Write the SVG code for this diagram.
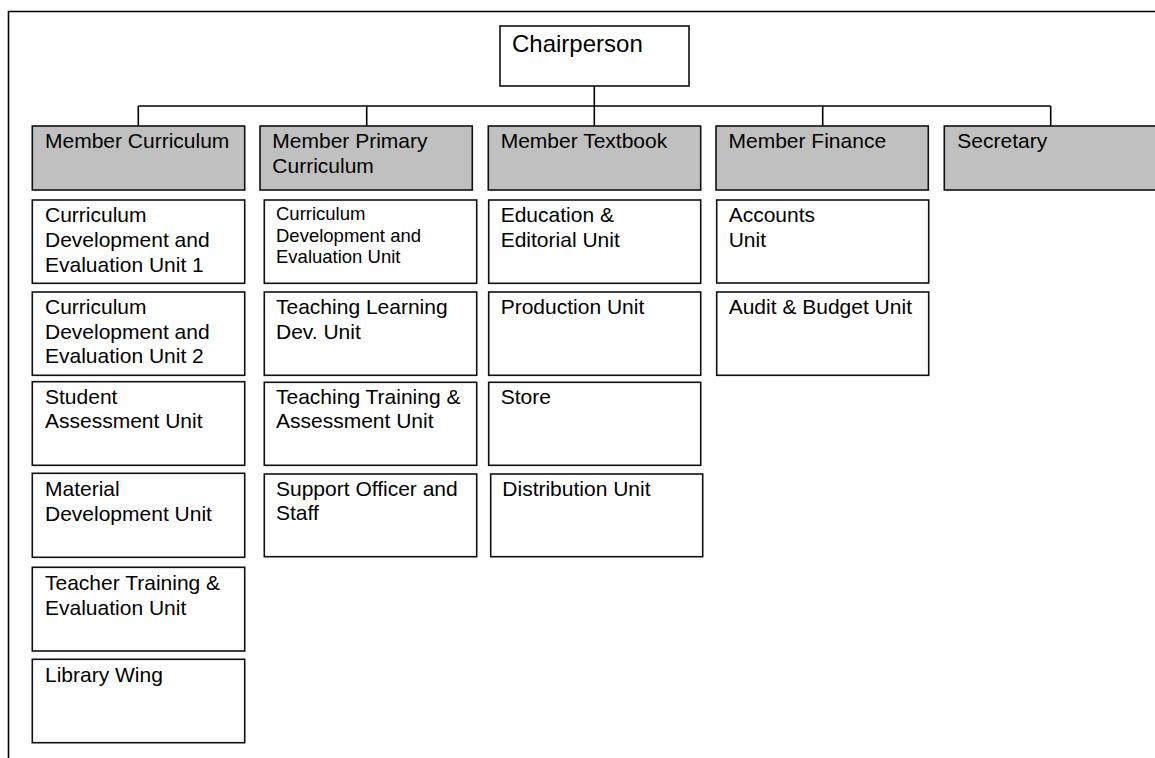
<svg xmlns="http://www.w3.org/2000/svg" width="1155" height="758" viewBox="0 0 1155 758">
<style>
  text { font-family: "Liberation Sans", Arial, sans-serif; font-size: 21px; fill: #000; }
  .small { font-size: 18.5px; }
  .big { font-size: 24px; }
  .hdr { fill: #c0c0c0; stroke: #111; stroke-width: 1.6; }
  .box { fill: #fff; stroke: #111; stroke-width: 1.6; }
  .conn { fill: none; stroke: #000; stroke-width: 1.6; }
</style>
<rect width="1155" height="758" fill="#fff"/>
<g id="frame">
  <path d="M8.5 760 V11.5 H1160" fill="none" stroke="#000" stroke-width="1.6"/>
</g>
<g id="connectors">
  <path class="conn" d="M594.3 86 V126"/>
  <path class="conn" d="M138.3 106 H1050.7" stroke-width="2"/>
  <path class="conn" d="M138.3 106 V126"/>
  <path class="conn" d="M366.7 106 V126"/>
  <path class="conn" d="M822.7 106 V126"/>
  <path class="conn" d="M1050.7 106 V126"/>
</g>
<g id="chairperson">
  <rect class="box" x="500" y="26" width="189" height="60"/>
  <text class="big" x="512" y="52">Chairperson</text>
</g>
<g id="member-curriculum">
  <rect class="hdr" x="32.3" y="126" width="212.4" height="64"/>
  <text x="45" y="148">Member Curriculum</text>
</g>
<g id="member-primary-curriculum">
  <rect class="hdr" x="260" y="126" width="212.3" height="64"/>
  <text x="272.3" y="148">Member Primary</text>
  <text x="272.3" y="172.5">Curriculum</text>
</g>
<g id="member-textbook">
  <rect class="hdr" x="488.3" y="126" width="212.4" height="64"/>
  <text x="500.7" y="148">Member Textbook</text>
</g>
<g id="member-finance">
  <rect class="hdr" x="716" y="126" width="212.3" height="64"/>
  <text x="728.5" y="148">Member Finance</text>
</g>
<g id="secretary">
  <rect class="hdr" x="944.3" y="126" width="230" height="64"/>
  <text x="957.3" y="148">Secretary</text>
</g>
<!-- Column 1 -->
<g id="cde-unit-1">
  <rect class="box" x="32.3" y="200" width="212.4" height="83.3"/>
  <text x="45" y="222.3">Curriculum</text>
  <text x="45" y="246.8">Development and</text>
  <text x="45" y="271.5">Evaluation Unit 1</text>
</g>
<g id="cde-unit-2">
  <rect class="box" x="32.3" y="292" width="212.4" height="83.3"/>
  <text x="45" y="314">Curriculum</text>
  <text x="45" y="338.5">Development and</text>
  <text x="45" y="363.3">Evaluation Unit 2</text>
</g>
<g id="student-assessment">
  <rect class="box" x="32.3" y="381.7" width="212.4" height="83.6"/>
  <text x="45" y="403.5">Student</text>
  <text x="45" y="428.3">Assessment Unit</text>
</g>
<g id="material-development">
  <rect class="box" x="32.3" y="473.3" width="212.4" height="84"/>
  <text x="45" y="496">Material</text>
  <text x="45" y="520.7">Development Unit</text>
</g>
<g id="teacher-training">
  <rect class="box" x="32.3" y="567.3" width="212.4" height="83.7"/>
  <text x="45" y="590">Teacher Training &amp;</text>
  <text x="45" y="614.5">Evaluation Unit</text>
</g>
<g id="library-wing">
  <rect class="box" x="32.3" y="659.3" width="212.4" height="83.4"/>
  <text x="45" y="682.3">Library Wing</text>
</g>
<!-- Column 2 -->
<g id="cde-unit-primary">
  <rect class="box" x="264.3" y="200" width="212.4" height="83.3"/>
  <text class="small" x="276" y="220">Curriculum</text>
  <text class="small" x="276" y="241.7">Development and</text>
  <text class="small" x="276" y="263.3">Evaluation Unit</text>
</g>
<g id="teaching-learning">
  <rect class="box" x="264.3" y="292" width="212.4" height="83.3"/>
  <text x="276" y="314">Teaching Learning</text>
  <text x="276" y="338.5">Dev. Unit</text>
</g>
<g id="teaching-training-assessment">
  <rect class="box" x="264.3" y="382.3" width="212.4" height="83"/>
  <text x="276" y="403.5">Teaching Training &amp;</text>
  <text x="276" y="428.3">Assessment Unit</text>
</g>
<g id="support-officer">
  <rect class="box" x="264.3" y="474" width="212.4" height="82.7"/>
  <text x="276" y="496">Support Officer and</text>
  <text x="276" y="520.3">Staff</text>
</g>
<!-- Column 3 -->
<g id="education-editorial">
  <rect class="box" x="488.7" y="200" width="212" height="83.3"/>
  <text x="500.7" y="222.3">Education &amp;</text>
  <text x="500.7" y="246.8">Editorial Unit</text>
</g>
<g id="production">
  <rect class="box" x="488.7" y="292" width="212" height="83.3"/>
  <text x="500.7" y="314">Production Unit</text>
</g>
<g id="store">
  <rect class="box" x="488.7" y="382.3" width="212" height="83"/>
  <text x="500.7" y="403.5">Store</text>
</g>
<g id="distribution">
  <rect class="box" x="490.7" y="474" width="212" height="82.7"/>
  <text x="502.3" y="496">Distribution Unit</text>
</g>
<!-- Column 4 -->
<g id="accounts">
  <rect class="box" x="716.7" y="200" width="212" height="83"/>
  <text x="728.7" y="221.8">Accounts</text>
  <text x="728.7" y="246.7">Unit</text>
</g>
<g id="audit-budget">
  <rect class="box" x="716.7" y="292" width="212" height="83.3"/>
  <text x="728.7" y="314">Audit &amp; Budget Unit</text>
</g>
</svg>
